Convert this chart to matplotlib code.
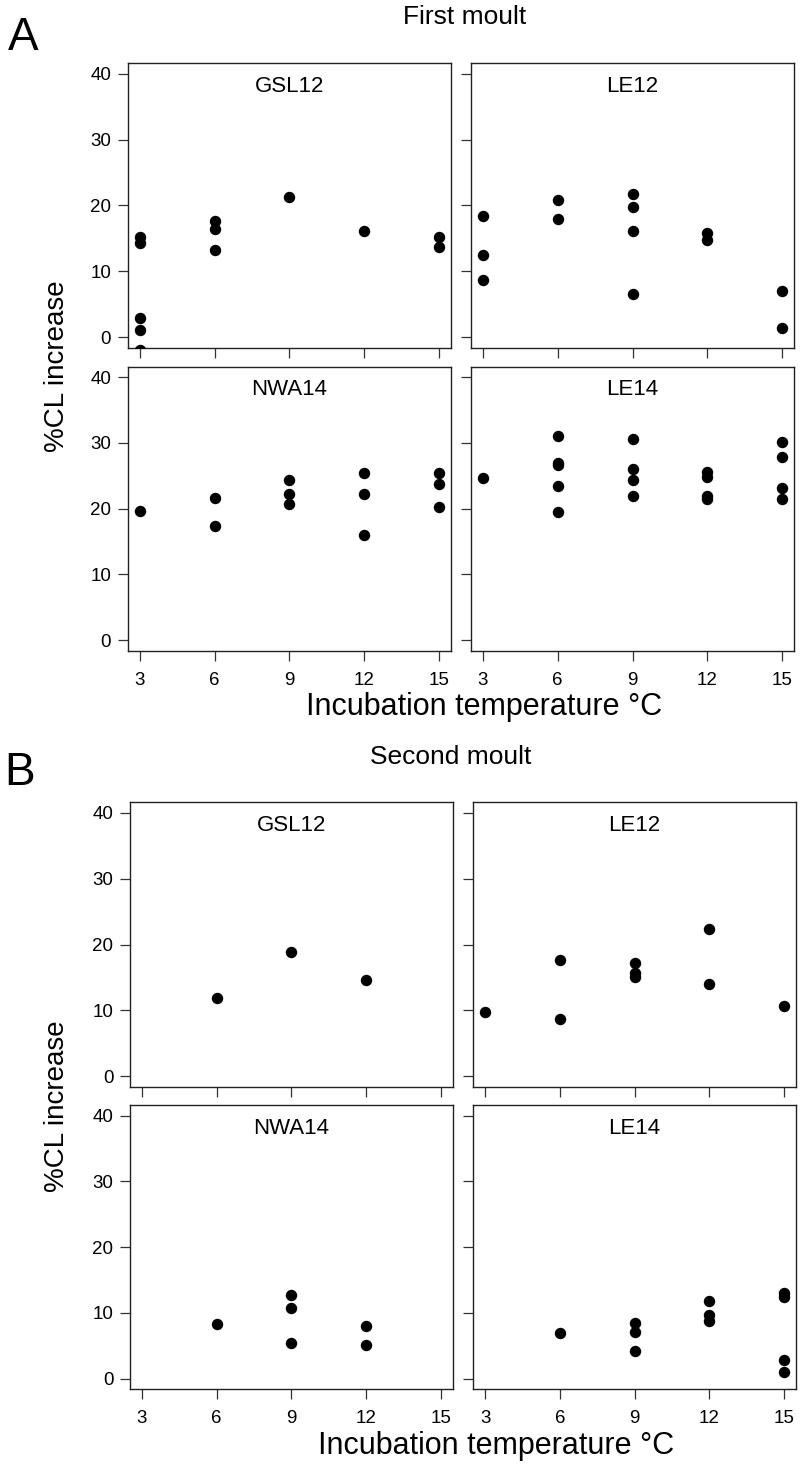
import numpy as np
import matplotlib.pyplot as plt

plt.rcParams['font.family'] = ['Liberation Sans', 'DejaVu Sans']

W, H = 800, 1467

temps = [3, 6, 9, 12, 15]
panel_names = ["GSL12", "LE12", "NWA14", "LE14"]

# A: first moult
a_gsl12_x = [3, 3, 3, 3, 3, 6, 6, 6, 9, 12, 15, 15]
a_gsl12_y = [15.2, 14.3, 2.9, 1.2, -1.9, 17.6, 16.4, 13.2, 21.3, 16.2, 15.2, 13.7]
a_le12_x = [3, 3, 3, 6, 6, 9, 9, 9, 9, 12, 12, 15, 15]
a_le12_y = [18.4, 12.5, 8.7, 20.8, 17.9, 21.7, 19.7, 16.2, 6.6, 15.8, 14.7, 7.1, 1.5]
a_nwa14_x = [3, 6, 6, 9, 9, 9, 12, 12, 12, 15, 15, 15]
a_nwa14_y = [19.6, 21.6, 17.4, 24.3, 22.2, 20.7, 25.4, 22.2, 16.0, 25.5, 23.8, 20.3]
a_le14_x = [3, 6, 6, 6, 6, 6, 9, 9, 9, 9, 12, 12, 12, 12, 15, 15, 15, 15]
a_le14_y = [24.7, 31.0, 27.0, 26.7, 23.5, 19.5, 30.6, 26.1, 24.4, 22.0,
            25.6, 24.8, 22.0, 21.5, 30.2, 27.9, 23.2, 21.4]

# B: second moult
b_gsl12_x = [6, 9, 12]
b_gsl12_y = [11.8, 18.9, 14.6]
b_le12_x = [3, 6, 6, 9, 9, 9, 12, 12, 15]
b_le12_y = [9.8, 17.6, 8.7, 17.2, 15.7, 15.0, 22.4, 14.0, 10.7]
b_nwa14_x = [6, 9, 9, 9, 12, 12]
b_nwa14_y = [8.3, 12.7, 10.8, 5.5, 8.0, 5.2]
b_le14_x = [6, 9, 9, 9, 12, 12, 12, 15, 15, 15, 15]
b_le14_y = [7.0, 8.5, 7.1, 4.2, 11.8, 9.7, 8.8, 13.0, 12.5, 2.8, 1.0]

fig = plt.figure(figsize=(W / 100, H / 100), dpi=100)


def add_ax(l, t, r, b):
    return fig.add_axes([l / W, 1 - b / H, (r - l) / W, (b - t) / H])


def draw_panel(ax, xs, ys, name, left_col, bottom_row):
    ax.scatter(xs, ys, s=52, color="black", zorder=3, clip_on=True)
    ax.set_xlim(2.52, 15.48)
    ax.set_ylim(-1.6, 41.6)
    ax.set_xticks(temps)
    ax.set_yticks([0, 10, 20, 30, 40])
    ax.tick_params(direction="out", length=7, width=0.9, color="#333333",
                   labelsize=13.5, pad=5)
    if not left_col:
        ax.set_yticklabels([])
    if not bottom_row:
        ax.set_xticklabels([])
    else:
        ax.tick_params(axis="x", pad=8)
    for s in ax.spines.values():
        s.set_linewidth(1.0)
        s.set_color("#222222")
    ax.text(0.5, 0.955, name, transform=ax.transAxes, ha="center", va="top",
            fontsize=16)


# column / row positions in pixels
cols_a = [(127.7, 451), (471, 794)]
rows_a = [(63, 348), (366.7, 650.7)]
cols_b = [(130, 452.7), (473.3, 796)]
rows_b = [(802.3, 1086.7), (1105, 1389.3)]

a_data = [(a_gsl12_x, a_gsl12_y), (a_le12_x, a_le12_y),
          (a_nwa14_x, a_nwa14_y), (a_le14_x, a_le14_y)]
b_data = [(b_gsl12_x, b_gsl12_y), (b_le12_x, b_le12_y),
          (b_nwa14_x, b_nwa14_y), (b_le14_x, b_le14_y)]

for cols, rows, data in [(cols_a, rows_a, a_data), (cols_b, rows_b, b_data)]:
    for i in range(4):
        r, c = divmod(i, 2)
        ax = add_ax(cols[c][0], rows[r][0], cols[c][1], rows[r][1])
        draw_panel(ax, data[i][0], data[i][1], panel_names[i], c == 0, r == 1)


def ftext(x, y, s, **kw):
    fig.text(x / W, 1 - y / H, s, ha="center", va="center", **kw)


ftext(465, 17, "First moult", fontsize=19)
ftext(451, 757, "Second moult", fontsize=19)
ftext(23, 38, "A", fontsize=33)
ftext(20, 773, "B", fontsize=33)
ftext(484, 707, "Incubation temperature °C", fontsize=22)
ftext(496, 1446, "Incubation temperature °C", fontsize=22)
ftext(57, 366, "%CL increase", fontsize=20, rotation=90)
ftext(57, 1106, "%CL increase", fontsize=20, rotation=90)

fig.savefig("out.png", dpi=100)
